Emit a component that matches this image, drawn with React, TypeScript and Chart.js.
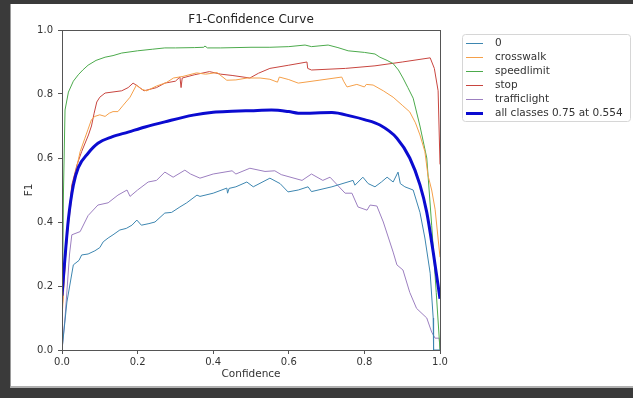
import React, { useEffect, useRef } from "react";
import { Chart, registerables } from "chart.js";

Chart.register(...registerables);

const TITLE = "F1-Confidence Curve";
const X_LABEL = "Confidence";
const Y_LABEL = "F1";

const LABELS = ["0", "crosswalk", "speedlimit", "stop", "trafficlight", "all classes 0.75 at 0.554"];

const conf0 = [0, 0.013, 0.03, 0.045, 0.052, 0.069, 0.087, 0.1, 0.109, 0.122, 0.135, 0.153, 0.17, 0.185, 0.198, 0.21, 0.23, 0.246, 0.272, 0.29, 0.312, 0.33, 0.357, 0.365, 0.4, 0.436, 0.438, 0.442, 0.46, 0.489, 0.506, 0.55, 0.577, 0.598, 0.625, 0.651, 0.66, 0.714, 0.77, 0.775, 0.796, 0.81, 0.828, 0.845, 0.86, 0.876, 0.889, 0.895, 0.907, 0.929, 0.947, 0.96, 0.974, 0.982, 0.983, 1.0];
const f1_0 = [0, 0.15, 0.266, 0.28, 0.297, 0.3, 0.31, 0.32, 0.338, 0.35, 0.36, 0.375, 0.38, 0.39, 0.406, 0.39, 0.395, 0.4, 0.428, 0.43, 0.447, 0.46, 0.484, 0.48, 0.49, 0.506, 0.49, 0.505, 0.51, 0.525, 0.51, 0.537, 0.52, 0.494, 0.5, 0.51, 0.495, 0.51, 0.53, 0.515, 0.54, 0.52, 0.51, 0.525, 0.54, 0.525, 0.556, 0.52, 0.51, 0.5, 0.43, 0.35, 0.24, 0.1, 0, 0];

const confCross = [0, 0.01, 0.017, 0.026, 0.035, 0.048, 0.06, 0.069, 0.078, 0.087, 0.1, 0.114, 0.125, 0.135, 0.148, 0.162, 0.18, 0.197, 0.21, 0.224, 0.25, 0.275, 0.295, 0.32, 0.356, 0.38, 0.41, 0.436, 0.46, 0.49, 0.524, 0.55, 0.57, 0.575, 0.6, 0.625, 0.68, 0.74, 0.745, 0.754, 0.78, 0.8, 0.805, 0.823, 0.85, 0.876, 0.9, 0.92, 0.935, 0.947, 0.96, 0.968, 0.978, 0.987, 1.0];
const f1Cross = [0.1, 0.3, 0.39, 0.48, 0.55, 0.62, 0.66, 0.69, 0.72, 0.73, 0.735, 0.73, 0.74, 0.745, 0.745, 0.765, 0.79, 0.828, 0.815, 0.81, 0.825, 0.835, 0.85, 0.855, 0.866, 0.862, 0.867, 0.843, 0.844, 0.85, 0.85, 0.846, 0.837, 0.853, 0.845, 0.834, 0.843, 0.853, 0.84, 0.822, 0.83, 0.822, 0.83, 0.828, 0.81, 0.79, 0.765, 0.744, 0.71, 0.672, 0.62, 0.547, 0.5, 0.44, 0.29];

const confSpeed = [0, 0.004, 0.008, 0.017, 0.03, 0.043, 0.055, 0.069, 0.09, 0.114, 0.135, 0.158, 0.2, 0.24, 0.272, 0.3, 0.35, 0.375, 0.378, 0.385, 0.42, 0.5, 0.55, 0.6, 0.643, 0.66, 0.704, 0.73, 0.757, 0.8, 0.828, 0.841, 0.86, 0.876, 0.89, 0.902, 0.915, 0.929, 0.947, 0.965, 0.978, 0.99, 1.0];
const f1Speed = [0.02, 0.5, 0.75, 0.806, 0.84, 0.86, 0.875, 0.89, 0.905, 0.915, 0.92, 0.928, 0.935, 0.94, 0.944, 0.944, 0.945, 0.946, 0.95, 0.944, 0.944, 0.946, 0.946, 0.948, 0.953, 0.948, 0.953, 0.945, 0.935, 0.93, 0.925, 0.915, 0.905, 0.895, 0.875, 0.85, 0.82, 0.787, 0.7, 0.6, 0.39, 0.18, 0.0];

const confStop = [0, 0.01, 0.018, 0.026, 0.04, 0.052, 0.07, 0.078, 0.085, 0.092, 0.1, 0.114, 0.158, 0.175, 0.188, 0.2, 0.217, 0.25, 0.272, 0.3, 0.312, 0.315, 0.318, 0.35, 0.39, 0.42, 0.45, 0.497, 0.52, 0.55, 0.6, 0.648, 0.65, 0.66, 0.75, 0.828, 0.9, 0.974, 0.985, 0.995, 1.0];
const f1Stop = [0.12, 0.3, 0.42, 0.516, 0.58, 0.62, 0.672, 0.7, 0.74, 0.775, 0.79, 0.803, 0.81, 0.82, 0.834, 0.825, 0.81, 0.82, 0.834, 0.84, 0.853, 0.82, 0.85, 0.86, 0.87, 0.862, 0.858, 0.85, 0.865, 0.88, 0.89, 0.9, 0.88, 0.875, 0.88, 0.888, 0.9, 0.913, 0.88, 0.81, 0.58];

const confTraffic = [0, 0.008, 0.02, 0.026, 0.048, 0.069, 0.095, 0.122, 0.148, 0.172, 0.18, 0.2, 0.228, 0.25, 0.272, 0.294, 0.325, 0.34, 0.365, 0.4, 0.45, 0.46, 0.497, 0.537, 0.563, 0.58, 0.635, 0.66, 0.69, 0.709, 0.749, 0.767, 0.783, 0.807, 0.815, 0.833, 0.85, 0.876, 0.886, 0.902, 0.92, 0.938, 0.965, 0.978, 0.987, 0.998, 1.0];
const f1Traffic = [0, 0.1, 0.3, 0.36, 0.37, 0.42, 0.453, 0.46, 0.484, 0.5, 0.48, 0.5, 0.525, 0.53, 0.556, 0.54, 0.562, 0.55, 0.537, 0.55, 0.56, 0.55, 0.568, 0.558, 0.56, 0.548, 0.53, 0.55, 0.53, 0.54, 0.49, 0.49, 0.447, 0.437, 0.453, 0.45, 0.4, 0.306, 0.266, 0.25, 0.18, 0.13, 0.1, 0.056, 0.037, 0.037, 0];

const confAll = [0, 0.008, 0.017, 0.03, 0.043, 0.069, 0.095, 0.132, 0.175, 0.22, 0.272, 0.347, 0.4, 0.45, 0.5, 0.554, 0.6, 0.625, 0.714, 0.767, 0.8, 0.841, 0.886, 0.92, 0.947, 0.965, 0.982, 1.0];
const f1All = [0.17, 0.29, 0.41, 0.515, 0.57, 0.615, 0.646, 0.666, 0.681, 0.697, 0.713, 0.734, 0.743, 0.746, 0.748, 0.75, 0.745, 0.74, 0.742, 0.73, 0.72, 0.703, 0.662, 0.6, 0.516, 0.43, 0.306, 0.16];

const COLORS = ["#3d86b0", "#f5a04a", "#4caa4c", "#c8453f", "#9c7fc0", "#0b0bd0"];
const FONT = "'DejaVu Sans', sans-serif";

const pairs = (xs: number[], ys: number[]) => xs.map((x, i) => ({ x, y: ys[i] }));

const framePlugin = {
  id: "frame",
  afterDatasetsDraw(chart: any) {
    const { ctx, chartArea: a } = chart;
    ctx.save();
    ctx.strokeStyle = "#555";
    ctx.lineWidth = 1;
    ctx.strokeRect(Math.round(a.left) + 0.5, Math.round(a.top) + 0.5, Math.round(a.right - a.left), Math.round(a.bottom - a.top));
    ctx.restore();
  },
};

const titlePlugin = {
  id: "mplTitle",
  afterDraw(chart: any) {
    const { ctx, chartArea: a } = chart;
    ctx.save();
    ctx.fillStyle = "#222";
    ctx.font = `12px ${FONT}`;
    ctx.textAlign = "center";
    ctx.textBaseline = "alphabetic";
    ctx.fillText(TITLE, (a.left + a.right) / 2, a.top - 7);
    ctx.restore();
  },
};

const legendPlugin = {
  id: "boxLegend",
  afterDraw(chart: any) {
    const ctx = chart.ctx;
    const x0 = 462.5, y0 = 34.5, w = 168, h = 87, r = 3;
    ctx.save();
    ctx.beginPath();
    ctx.moveTo(x0 + r, y0);
    ctx.lineTo(x0 + w - r, y0);
    ctx.quadraticCurveTo(x0 + w, y0, x0 + w, y0 + r);
    ctx.lineTo(x0 + w, y0 + h - r);
    ctx.quadraticCurveTo(x0 + w, y0 + h, x0 + w - r, y0 + h);
    ctx.lineTo(x0 + r, y0 + h);
    ctx.quadraticCurveTo(x0, y0 + h, x0, y0 + h - r);
    ctx.lineTo(x0, y0 + r);
    ctx.quadraticCurveTo(x0, y0, x0 + r, y0);
    ctx.closePath();
    ctx.fillStyle = "rgba(255,255,255,0.85)";
    ctx.fill();
    ctx.strokeStyle = "#d6d6d6";
    ctx.lineWidth = 1;
    ctx.stroke();
    ctx.font = `10.5px ${FONT}`;
    ctx.textBaseline = "middle";
    ctx.textAlign = "left";
    chart.data.datasets.forEach((ds: any, i: number) => {
      const y = 43.5 + i * 14;
      ctx.beginPath();
      ctx.strokeStyle = ds.borderColor;
      ctx.lineWidth = ds.borderWidth;
      ctx.moveTo(466, y);
      ctx.lineTo(483, y);
      ctx.stroke();
      ctx.fillStyle = "#333";
      ctx.fillText(ds.label, 495, y);
    });
    ctx.restore();
  },
};

export default function App() {
  const ref = useRef<HTMLCanvasElement>(null);

  useEffect(() => {
    if (!ref.current) return;
    const series = [
      pairs(conf0, f1_0),
      pairs(confCross, f1Cross),
      pairs(confSpeed, f1Speed),
      pairs(confStop, f1Stop),
      pairs(confTraffic, f1Traffic),
      pairs(confAll, f1All),
    ];
    const datasets = series.map((data, i) => ({
      label: LABELS[i],
      data,
      borderColor: COLORS[i],
      backgroundColor: COLORS[i],
      borderWidth: i === 5 ? 3 : 1,
      pointRadius: 0,
      tension: 0,
      cubicInterpolationMode: i === 5 ? ("monotone" as const) : ("default" as const),
      fill: false,
      order: i === 5 ? 0 : 1,
    }));
    const tickFont = { family: FONT, size: 10 };
    const chart = new Chart(ref.current, {
      type: "line",
      data: { datasets },
      plugins: [framePlugin, titlePlugin, legendPlugin],
      options: {
        animation: false,
        responsive: false,
        devicePixelRatio: 1,
        layout: { padding: { top: 30, right: 193, bottom: 0, left: 0 } },
        plugins: { legend: { display: false }, title: { display: false }, tooltip: { enabled: false } },
        scales: {
          x: {
            type: "linear",
            min: 0,
            max: 1,
            afterFit: (s: any) => { s.height = 48; },
            ticks: { stepSize: 0.2, color: "#333", font: tickFont, padding: 2, maxRotation: 0, callback: (v: any) => Number(v).toFixed(1) },
            grid: { display: true, drawOnChartArea: false, drawTicks: true, tickLength: 4, color: "#555" },
            border: { display: false },
            title: { display: true, text: X_LABEL, color: "#333", font: { family: FONT, size: 10.5 }, padding: { top: 0, bottom: 17 } },
          },
          y: {
            type: "linear",
            min: 0,
            max: 1,
            afterFit: (s: any) => { s.width = 62; },
            ticks: { stepSize: 0.2, color: "#333", font: tickFont, padding: 5, callback: (v: any) => Number(v).toFixed(1) },
            grid: { display: true, drawOnChartArea: false, drawTicks: true, tickLength: 4, color: "#555" },
            border: { display: false },
            title: { display: true, text: Y_LABEL, color: "#333", font: { family: FONT, size: 10.5 }, padding: { top: 23, bottom: 0 } },
          },
        },
      },
    });
    return () => chart.destroy();
  }, []);

  return (
    <div style={{ position: "fixed", left: 0, top: 0, width: 633, height: 398, background: "#3a3a3a", overflow: "hidden" }}>
      <div style={{ position: "absolute", left: 10, top: 4, width: 623, height: 384, background: "#fff", borderLeft: "1px solid #9a9a9a", borderBottom: "2px solid #b0b0b0", boxSizing: "border-box" }} />
      <canvas ref={ref} width={633} height={398} style={{ position: "absolute", left: 0, top: 0, width: 633, height: 398 }} />
    </div>
  );
}
